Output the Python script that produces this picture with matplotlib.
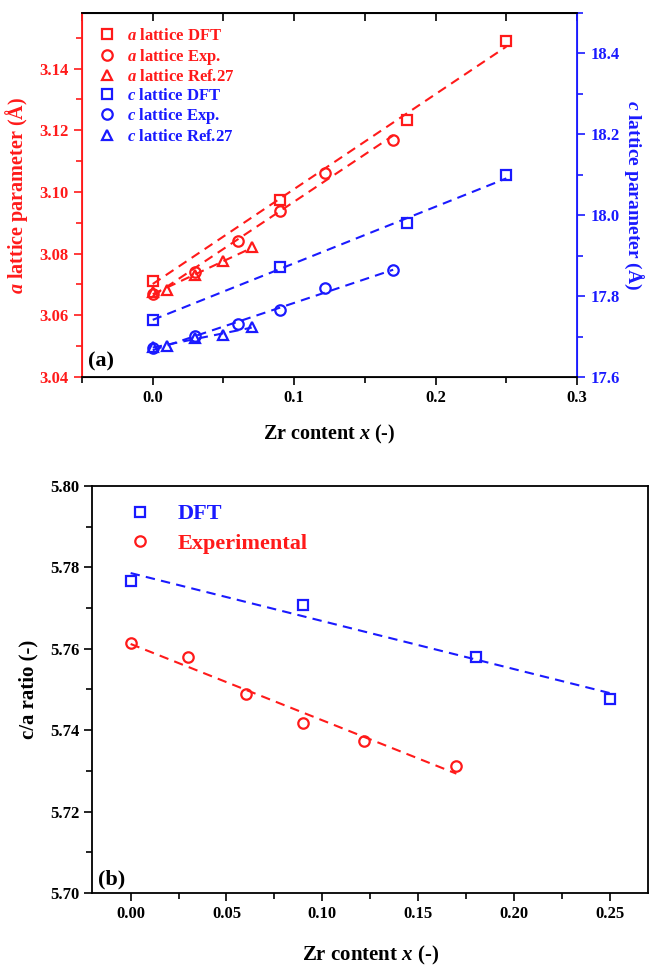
import numpy as np
import matplotlib
matplotlib.use("Agg")
import matplotlib.pyplot as plt
from matplotlib.ticker import MultipleLocator

plt.rcParams['font.family'] = 'Liberation Serif'
plt.rcParams['font.weight'] = 'bold'
plt.rcParams['axes.labelweight'] = 'bold'
plt.rcParams['mathtext.fontset'] = 'custom'
plt.rcParams['mathtext.it'] = 'Liberation Serif:italic:bold'
plt.rcParams['mathtext.rm'] = 'Liberation Serif:bold'

# ---------------- datos (a) ----------------
x_dft = [0.0, 0.09, 0.18, 0.25]
a_dft = [3.0710, 3.0975, 3.1234, 3.1488]
c_dft = [17.742, 17.872, 17.980, 18.099]

x_exp = [0.0, 0.03, 0.06, 0.09, 0.122, 0.17]
a_exp = [3.0669, 3.0741, 3.0841, 3.0938, 3.1061, 3.1169]
c_exp = [17.671, 17.701, 17.730, 17.765, 17.819, 17.864]

x_ref = [0.0, 0.01, 0.03, 0.05, 0.07]
a_ref = [3.0676, 3.0682, 3.0732, 3.0776, 3.0820]
c_ref = [17.675, 17.677, 17.696, 17.705, 17.724]

# ---------------- datos (b) ----------------
ca_dft = [5.7767, 5.7707, 5.7580, 5.7477]
ca_exp = [5.7613, 5.7580, 5.7489, 5.7418, 5.7373, 5.7313]

ROJO = '#ff1a1a'
AZUL = '#1a1aff'
DASH = (0, (4.5, 3))

def ajuste(ax, x, y, color):
    p = np.polyfit(x, y, 1)
    xs = np.array([min(x), max(x)])
    ax.plot(xs, np.polyval(p, xs), color=color, lw=1.5, linestyle=DASH, zorder=2)

fig = plt.figure(figsize=(6.52, 9.66), dpi=100)

# =============================================================================
# Panel (a)
# =============================================================================
ax1 = fig.add_axes([0.1258, 0.6097, 0.7592, 0.3768])
ax2 = ax1.twinx()

mk = dict(mfc='none', ms=7.5, mew=1.6, linestyle='none', zorder=3)
h1, = ax1.plot(x_dft, a_dft, 's', color=ROJO, label='$a$ lattice DFT', **mk)
h2, = ax1.plot(x_exp, a_exp, 'o', color=ROJO, label='$a$ lattice Exp.', **mk)
h3, = ax1.plot(x_ref, a_ref, '^', color=ROJO, label='$a$ lattice Ref.27', **mk)
for xx, yy in [(x_dft, a_dft), (x_exp, a_exp), (x_ref, a_ref)]:
    ajuste(ax1, xx, yy, ROJO)

h4, = ax2.plot(x_dft, c_dft, 's', color=AZUL, label='$c$ lattice DFT', **mk)
h5, = ax2.plot(x_exp, c_exp, 'o', color=AZUL, label='$c$ lattice Exp.', **mk)
h6, = ax2.plot(x_ref, c_ref, '^', color=AZUL, label='$c$ lattice Ref.27', **mk)
for xx, yy in [(x_dft, c_dft), (x_exp, c_exp), (x_ref, c_ref)]:
    ajuste(ax2, xx, yy, AZUL)

ax1.set_xlim(-0.05, 0.3)
ax1.set_ylim(3.04, 3.158)
ax2.set_ylim(17.6, 18.5)

ax1.xaxis.set_major_locator(MultipleLocator(0.1))
ax1.xaxis.set_minor_locator(MultipleLocator(0.05))
ax1.yaxis.set_major_locator(MultipleLocator(0.02))
ax1.yaxis.set_minor_locator(MultipleLocator(0.01))
ax2.yaxis.set_major_locator(MultipleLocator(0.2))
ax2.yaxis.set_minor_locator(MultipleLocator(0.1))
ax1.xaxis.set_major_formatter(plt.FuncFormatter(lambda v, p: f'{v:.1f}'))
ax1.yaxis.set_major_formatter(plt.FuncFormatter(lambda v, p: f'{v:.2f}'))
ax2.yaxis.set_major_formatter(plt.FuncFormatter(lambda v, p: f'{v:.1f}'))

ax1.tick_params(axis='x', which='both', direction='out', top=False, labelsize=12, width=1.2)
ax1.tick_params(axis='x', which='major', length=6)
ax1.tick_params(axis='x', which='minor', length=4)
# ticks hacia dentro en el borde superior
sec = ax1.secondary_xaxis('top')
sec.xaxis.set_major_locator(MultipleLocator(0.05))
sec.tick_params(direction='in', length=6, width=1.2, labeltop=False)
sec.spines['top'].set_linewidth(1.3)

ax1.tick_params(axis='y', which='both', colors=ROJO, labelsize=12, width=1.2)
ax1.tick_params(axis='y', which='major', length=6)
ax1.tick_params(axis='y', which='minor', length=4)
ax2.tick_params(axis='y', which='both', colors=AZUL, labelsize=12, width=1.2)
ax2.tick_params(axis='y', which='major', length=6)
ax2.tick_params(axis='y', which='minor', length=4)

for s in ['top', 'bottom', 'left', 'right']:
    ax2.spines[s].set_linewidth(1.3)
ax2.spines['left'].set_color(ROJO)
ax2.spines['right'].set_color(AZUL)
ax1.spines['left'].set_color(ROJO)
ax1.spines['right'].set_color(AZUL)

ax1.set_xlabel('Zr content $x$ (-)', fontsize=14.5, labelpad=12)
ax1.set_ylabel('$a$ lattice parameter (Å)', fontsize=14.5, color=ROJO, labelpad=7)
ax2.set_ylabel('$c$ lattice parameter (Å)', fontsize=14, color=AZUL,
               rotation=270, va='bottom', labelpad=2)

leg = ax1.legend(handles=[h1, h2, h3, h4, h5, h6], loc='upper left',
                 bbox_to_anchor=(0.0, 1.0), frameon=False, fontsize=12,
                 handletextpad=0.6, labelspacing=0.15, borderaxespad=0.5,
                 handlelength=1.2)
for t, c in zip(leg.get_texts(), [ROJO] * 3 + [AZUL] * 3):
    t.set_color(c)
ax1.text(0.012, 0.03, '(a)', transform=ax1.transAxes, fontsize=16, fontweight='bold')

# =============================================================================
# Panel (b)
# =============================================================================
ax3 = fig.add_axes([0.1416, 0.0756, 0.8523, 0.4213])
g1, = ax3.plot(x_dft, ca_dft, 's', color=AZUL, label='DFT', **mk)
g2, = ax3.plot(x_exp, ca_exp, 'o', color=ROJO, label='Experimental', **mk)
ajuste(ax3, x_dft, ca_dft, AZUL)
ajuste(ax3, x_exp, ca_exp, ROJO)

ax3.set_xlim(-0.02, 0.27)
ax3.set_ylim(5.70, 5.80)
ax3.xaxis.set_major_locator(MultipleLocator(0.05))
ax3.xaxis.set_minor_locator(MultipleLocator(0.025))
ax3.yaxis.set_major_locator(MultipleLocator(0.02))
ax3.yaxis.set_minor_locator(MultipleLocator(0.01))
ax3.xaxis.set_major_formatter(plt.FuncFormatter(lambda v, p: f'{v:.2f}'))
ax3.yaxis.set_major_formatter(plt.FuncFormatter(lambda v, p: f'{v:.2f}'))
ax3.tick_params(which='both', direction='out', labelsize=12, width=1.2)
ax3.tick_params(which='major', length=6)
ax3.tick_params(which='minor', length=4)
for s in ax3.spines.values():
    s.set_linewidth(1.3)

ax3.set_xlabel('Zr content $x$ (-)', fontsize=15, labelpad=16)
ax3.set_ylabel('c/a ratio (-)', fontsize=15, labelpad=8)

leg2 = ax3.legend(handles=[g1, g2], loc='upper left', frameon=False, fontsize=16,
                  handletextpad=1.0, labelspacing=0.4, borderaxespad=0.4,
                  handlelength=1.4, bbox_to_anchor=(0.025, 1.0))
for t, c in zip(leg2.get_texts(), [AZUL, ROJO]):
    t.set_color(c)
ax3.text(0.01, 0.02, '(b)', transform=ax3.transAxes, fontsize=16, fontweight='bold')

fig.savefig('out.png', dpi=100)
